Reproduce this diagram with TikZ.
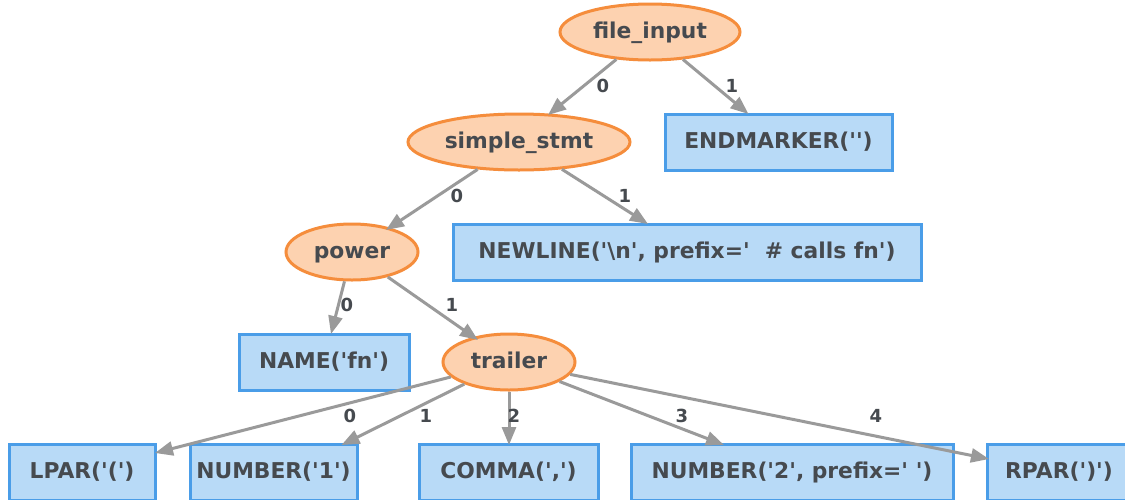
\documentclass[tikz,border=0pt]{standalone}
\usepackage{fontspec}
\setmainfont{DejaVu Sans}[Ligatures=TeXOff]
\usetikzlibrary{arrows.meta,calc,shapes.geometric}
\definecolor{txt}{HTML}{464A4F}
\definecolor{ofill}{HTML}{FDD2B0}
\definecolor{odraw}{HTML}{F58D3C}
\definecolor{bfill}{HTML}{B8DAF7}
\definecolor{bdraw}{HTML}{4A9DE8}
\definecolor{edgec}{HTML}{9A9A9A}
\tikzset{
  nodetext/.style={font=\fontsize{21.8}{25}\selectfont\bfseries, text=txt, text height=15pt, text depth=2pt},
  rule/.style={ellipse, draw=odraw, fill=ofill, line width=3pt, minimum height=56pt, inner sep=0pt, nodetext},
  tok/.style={rectangle, draw=bdraw, fill=bfill, line width=3pt, minimum height=56pt, inner sep=0pt, nodetext},
  conn/.style={draw=edgec, line width=3pt, -{Triangle[length=18pt,width=14pt]}},
  lbl/.style={font=\fontsize{18}{21}\selectfont\bfseries, text=txt, inner sep=0pt}
}
\begin{document}
\begin{tikzpicture}[x=1pt,y=-1pt]
\useasboundingbox (0,0) rectangle (1125,499);
\clip (0,0) rectangle (1125,499);
\fill[white] (0,0) rectangle (1125,499);
% rule nodes
\node[rule, minimum width=180pt] (fi) at (650,32) {file\_input};
\node[rule, minimum width=222pt] (ss) at (519,142) {simple\_stmt};
\node[rule, minimum width=132pt] (pw) at (352,252) {power};
\node[rule, minimum width=132pt] (tr) at (509,362) {trailer};
% token nodes
\node[tok, minimum width=227pt] (em) at (778.5,142) {ENDMARKER('')};
\node[tok, minimum width=468pt] (nl) at (687,252) {NEWLINE('\textbackslash n', prefix='\ \ \# calls fn')};
\node[tok, minimum width=170pt] (nm) at (324,362) {NAME('fn')};
\node[tok, minimum width=146pt] (lp) at (82,472) {LPAR('(')};
\node[tok, minimum width=167pt] (n1) at (273.5,472) {NUMBER('1')};
\node[tok, minimum width=179pt] (cm) at (508.5,472) {COMMA(',')};
\node[tok, minimum width=322pt] (n2) at (792,472) {NUMBER('2', prefix=' ')};
\node[tok, minimum width=144pt] (rp) at (1059,472) {RPAR(')')};
% connectors
\draw[conn] (fi) -- ($(ss.center)+(29,-27)$);
\draw[conn] (fi) -- ($(em.center)+(-30,-28)$);
\draw[conn] (ss) -- ($(pw.center)+(34,-22)$);
\draw[conn] (ss) -- ($(nl.center)+(-39,-28)$);
\draw[conn] (pw) -- ($(nm.center)+(7,-28)$);
\draw[conn] (pw) -- ($(tr.center)+(-31,-22)$);
\draw[conn] (tr) -- ($(lp.center)+(73,-19)$);
\draw[conn] (tr) -- ($(n1.center)+(68,-27)$);
\draw[conn] (tr) -- ($(cm.center)+(0.5,-27)$);
\draw[conn] (tr) -- ($(n2.center)+(-68,-27)$);
\draw[conn] (tr) -- ($(rp.center)+(-70,-13)$);
% edge labels
\node[lbl] (l1) at (603,86) {0};
\node[lbl] (l2) at (732,86) {1};
\node[lbl] (l3) at (457,196) {0};
\node[lbl] (l4) at (625,196) {1};
\node[lbl] (l5) at (347,305) {0};
\node[lbl] (l6) at (452,305) {1};
\node[lbl] (l7) at (350,416) {0};
\node[lbl] (l8) at (426,416) {1};
\node[lbl] (l9) at (514,416) {2};
\node[lbl] (l10) at (682,416) {3};
\node[lbl] (l11) at (876,416) {4};
\end{tikzpicture}
\end{document}
